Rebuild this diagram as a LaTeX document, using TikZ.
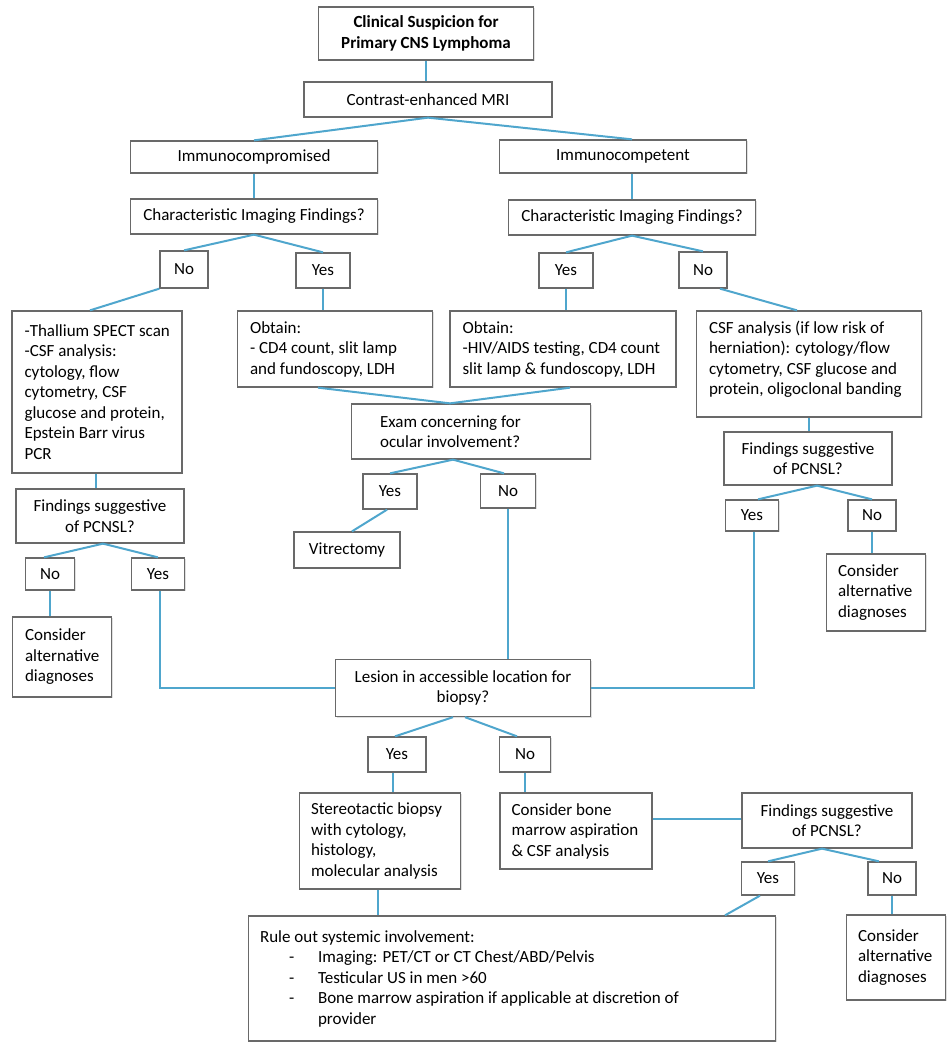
\documentclass[tikz,border=0pt]{standalone}
\usepackage{fontspec}
\setmainfont{Carlito}
\usetikzlibrary{calc,shadows}
\definecolor{lineblue}{RGB}{79,166,205}
\definecolor{bordergray}{RGB}{105,105,105}
\tikzset{
  box/.style={draw=bordergray, line width=1.3pt, fill=white, inner sep=0pt,
    general shadow={fill=black!12, shadow xshift=1.2pt, shadow yshift=-1.2pt},
    font=\fontsize{17}{20.5}\selectfont, align=center},
  txt/.style={inner sep=0pt, anchor=west, align=left, font=\fontsize{17}{20.5}\selectfont},
  lnk/.style={draw=lineblue, line width=2pt},
}
\begin{document}
\begin{tikzpicture}[x=1pt,y=-1pt]
\useasboundingbox (0,0) rectangle (947,1050);
% boxes
\node[box, minimum width=215, minimum height=53, font=\fontsize{17}{20.5}\selectfont\bfseries] (title) at (426,33.5) {Clinical Suspicion for\\Primary CNS Lymphoma};
\node[box, minimum width=248, minimum height=35] (mri) at (428,99.5) {Contrast-enhanced MRI};
\node[box, minimum width=247, minimum height=32] (imc) at (254,157) {Immunocompromised};
\node[box, minimum width=247, minimum height=33] (ict) at (623,156.5) {Immunocompetent};
\node[box, minimum width=247, minimum height=35] (cifL) at (254,216.5) {Characteristic Imaging Findings?};
\node[box, minimum width=247, minimum height=35] (cifR) at (632,217.5) {Characteristic Imaging Findings?};
\node[box, minimum width=48, minimum height=37] (noA) at (184,269.5) {No};
\node[box, minimum width=54, minimum height=35] (yesA) at (323,270.5) {Yes};
\node[box, minimum width=54, minimum height=35] (yesB) at (566,270.5) {Yes};
\node[box, minimum width=48, minimum height=36] (noB) at (703,270) {No};
\node[box, minimum width=170, minimum height=162] (thal) at (97,392) {};
\node[txt] (thalT) at ($(thal.west)+(13,0)$) {-Thallium SPECT scan\\-CSF analysis:\\cytology, flow\\cytometry, CSF\\glucose and protein,\\Epstein Barr virus\\PCR};
\node[box, minimum width=195, minimum height=76] (obtL) at (335,349) {};
\node[txt] (obtLT) at ($(obtL.west)+(13,0)$) {Obtain:\\- CD4 count, slit lamp\\and fundoscopy, LDH};
\node[box, minimum width=226, minimum height=76] (obtR) at (563,349) {};
\node[txt] (obtRT) at ($(obtR.west)+(13,0)$) {Obtain:\\-HIV/AIDS testing, CD4 count\\slit lamp \& fundoscopy, LDH};
\node[box, minimum width=225, minimum height=106] (csfR) at (809,364) {};
\node[txt] (csfRT) at ($(csfR.west)+(13,-5)$) {CSF analysis (if low risk of\\herniation): cytology/flow\\cytometry, CSF glucose and\\protein, oligoclonal banding};
\node[box, minimum width=239, minimum height=55] (exam) at (471,431.5) {};
\node[txt] (examT) at ($(exam.west)+(29,0)$) {Exam concerning for\\ocular involvement?};
\node[box, minimum width=54, minimum height=35] (yesC) at (390,491.5) {Yes};
\node[box, minimum width=55, minimum height=34] (noC) at (508,491) {No};
\node[box, minimum width=106, minimum height=36] (vit) at (347,550) {Vitrectomy};
\node[box, minimum width=168, minimum height=54] (finL) at (100,516) {Findings suggestive\\of PCNSL?};
\node[box, minimum width=49, minimum height=32] (noD) at (50,574) {No};
\node[box, minimum width=53, minimum height=32] (yesD) at (158,574) {Yes};
\node[box, minimum width=99, minimum height=80] (conL) at (62,657) {};
\node[txt] (conLT) at ($(conL.west)+(13,0)$) {Consider\\alternative\\diagnoses};
\node[box, minimum width=168, minimum height=53] (finR) at (808,458.5) {Findings suggestive\\of PCNSL?};
\node[box, minimum width=53, minimum height=31] (yesE) at (752,515.5) {Yes};
\node[box, minimum width=48, minimum height=31] (noE) at (872,515.5) {No};
\node[box, minimum width=99, minimum height=77] (conR) at (876,592.5) {};
\node[txt] (conRT) at ($(conR.west)+(12,0)$) {Consider\\alternative\\diagnoses};
\node[box, minimum width=255, minimum height=57] (les) at (463,688) {Lesion in accessible location for\\biopsy?};
\node[box, minimum width=58, minimum height=35] (yesF) at (397,754.5) {Yes};
\node[box, minimum width=51, minimum height=35] (noF) at (525,754.5) {No};
\node[box, minimum width=161, minimum height=96] (ster) at (380,841) {};
\node[txt] (sterT) at ($(ster.west)+(12,0)$) {Stereotactic biopsy\\with cytology,\\histology,\\molecular analysis};
\node[box, minimum width=152, minimum height=76] (cbm) at (576,831) {};
\node[txt] (cbmT) at ($(cbm.west)+(12,0)$) {Consider bone\\marrow aspiration\\\& CSF analysis};
\node[box, minimum width=170, minimum height=55] (finB) at (827,820.5) {Findings suggestive\\of PCNSL?};
\node[box, minimum width=53, minimum height=33] (yesG) at (768,878.5) {Yes};
\node[box, minimum width=48, minimum height=33] (noG) at (892,878.5) {No};
\node[box, minimum width=99, minimum height=85] (conB) at (896,957.5) {};
\node[txt] (conBT) at ($(conB.west)+(12,0)$) {Consider\\alternative\\diagnoses};
\node[box, minimum width=527, minimum height=125] (rule) at (512,978.5) {};
\node[txt] (ruleT) at ($(rule.west)+(12,0)$) {Rule out systemic involvement:\\
\hspace*{29pt}\makebox[29pt][l]{-}Imaging: PET/CT or CT Chest/ABD/Pelvis\\
\hspace*{29pt}\makebox[29pt][l]{-}Testicular US in men >60\\
\hspace*{29pt}\makebox[29pt][l]{-}Bone marrow aspiration if applicable at discretion of\\
\hspace*{58pt}provider};
% connectors
\draw[lnk] (title.south) -- (title.south |- mri.north);
\draw[lnk] (mri.south) -- (imc.north);
\draw[lnk] (mri.south) -- ($(ict.north)+(9,0)$);
\draw[lnk] (imc.south) -- (cifL.north);
\draw[lnk] (cifR.north |- ict.south) -- (cifR.north);
\draw[lnk] (cifL.south) -- (noA.north);
\draw[lnk] (cifL.south) -- (yesA.north);
\draw[lnk] (cifR.south) -- (yesB.north);
\draw[lnk] (cifR.south) -- (noB.north);
\draw[lnk] (noA.south west) -- ($(thal.north)+(-7,0)$);
\draw[lnk] (yesA.south) -- (yesA.south |- obtL.north);
\draw[lnk] (yesB.south) -- (yesB.south |- obtR.north);
\draw[lnk] ($(noB.south)+(17,0)$) -- ($(csfR.north)+(-12,0)$);
\draw[lnk] ($(obtL.south)+(-17,0)$) -- ($(exam.north)+(-21,0)$);
\draw[lnk] ($(obtR.south)+(7,0)$) -- ($(exam.north)+(-21,0)$);
\draw[lnk] ($(exam.south)+(-18,0)$) -- (yesC.north);
\draw[lnk] ($(exam.south)+(-18,0)$) -- ($(noC.north)+(-4,0)$);
\draw[lnk] ($(yesC.south)+(-3,0)$) -- ($(vit.north)+(5,0)$);
\draw[lnk] (noC.south) -- (noC.south |- les.north);
\draw[lnk] ($(thal.south)+(-1,0)$) -- ($(thal.south |- finL.north)+(-1,0)$);
\draw[lnk] ($(finL.south)+(3,0)$) -- ($(noD.north)+(-6,0)$);
\draw[lnk] ($(finL.south)+(3,0)$) -- (yesD.north);
\draw[lnk] (noD.south) -- (noD.south |- conL.north);
\draw[lnk] ($(yesD.south)+(2,0)$) |- (les.west);
\draw[lnk] (csfR.south) -- (csfR.south |- finR.north);
\draw[lnk] ($(finR.south)+(9,0)$) -- ($(yesE.north)+(6,0)$);
\draw[lnk] ($(finR.south)+(9,0)$) -- (noE.north);
\draw[lnk] ($(yesE.south)+(2,0)$) |- (les.east);
\draw[lnk] (noE.south) -- (noE.south |- conR.north);
\draw[lnk] ($(les.south)+(-10,0)$) -- ($(yesF.north)+(-2,0)$);
\draw[lnk] ($(les.south)+(2,0)$) -- ($(noF.north)+(-8,0)$);
\draw[lnk] ($(yesF.south)+(-4,0)$) -- ($(yesF.south |- ster.north)+(-4,0)$);
\draw[lnk] (noF.south) -- (noF.south |- cbm.north);
\draw[lnk] ($(cbm.east)+(0,-12)$) -- ($(cbm.east -| finB.west)+(0,-12)$);
\draw[lnk] ($(finB.south)+(-5,0)$) -- (yesG.north);
\draw[lnk] ($(finB.south)+(-5,0)$) -- ($(noG.north)+(-13,0)$);
\draw[lnk] ($(yesG.south)+(-8,0)$) -- ($(rule.north)+(213,0)$);
\draw[lnk] (noG.south) -- (noG.south |- conB.north);
\draw[lnk] ($(ster.south)+(-2,0)$) -- ($(ster.south |- rule.north)+(-2,0)$);
\end{tikzpicture}
\end{document}
